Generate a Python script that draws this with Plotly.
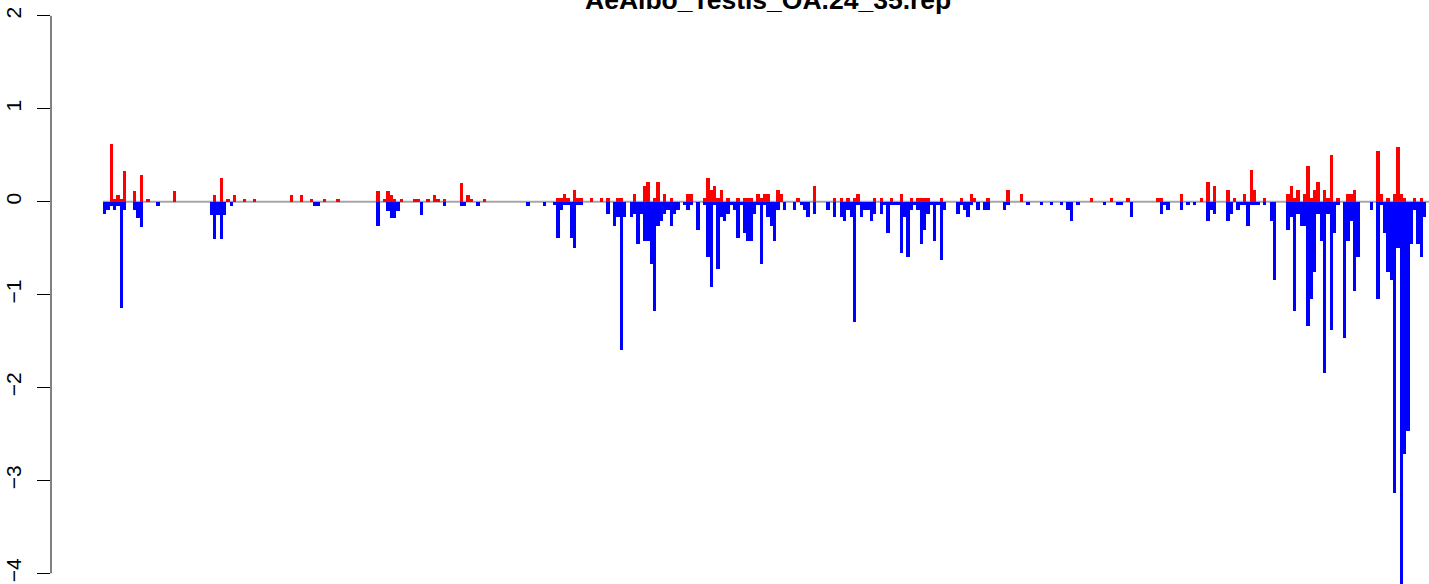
import plotly.graph_objects as go

# Window indices (bins along the sequence) and values
red_idx = [2, 3, 4, 5, 6, 9, 11, 13, 21, 33, 35, 37, 39, 42, 45, 56, 59, 62,
           66, 70, 82, 84, 85, 86, 87, 89, 93, 94, 97, 99, 100, 102, 107, 109, 110, 114,
           136, 137, 138, 139, 141, 142, 143, 146, 149, 151, 154, 155, 159, 162, 163, 165,
           166, 168, 170, 175, 176,
           180, 181, 182, 183, 184, 185, 187, 190, 192, 193, 194, 196, 197, 198, 199, 202,
           203, 208, 213, 219, 221, 223, 225, 226,
           231, 233, 236, 239, 242, 244, 245, 246, 247, 251, 257, 260, 261, 265, 271, 275,
           296, 302, 307, 316, 317, 323, 329, 331, 333,
           337, 339, 342, 344, 345, 348, 355, 356, 357, 358, 360, 361, 362, 363, 364, 366,
           367, 368,
           370, 373, 374, 375, 382, 383, 385, 387, 388, 389, 390, 393, 395]
red_val = [0.62, 0.03, 0.075, 0.03, 0.33, 0.12, 0.29, 0.03, 0.12, 0.075, 0.25, 0.03, 0.075,
           0.03, 0.03, 0.075, 0.075, 0.03,
           0.03, 0.03, 0.12, 0.03, 0.12, 0.075, 0.03, 0.03, 0.03, 0.03, 0.03, 0.075, 0.03,
           0.03, 0.2, 0.075, 0.03, 0.03,
           0.04, 0.04, 0.085, 0.04, 0.13, 0.04, 0.04, 0.04, 0.04, 0.04, 0.04, 0.04, 0.085,
           0.17, 0.21, 0.04, 0.21, 0.085, 0.04, 0.085, 0.085,
           0.04, 0.26, 0.13, 0.17, 0.04, 0.13, 0.04, 0.04, 0.04, 0.04, 0.04, 0.085, 0.04,
           0.085, 0.085, 0.13, 0.085, 0.04, 0.17, 0.04, 0.04, 0.04, 0.04, 0.085,
           0.04, 0.04, 0.04, 0.085, 0.04, 0.04, 0.04, 0.04, 0.04, 0.04, 0.04, 0.085, 0.04,
           0.04, 0.13, 0.085,
           0.04, 0.04, 0.04, 0.04, 0.04, 0.085, 0.04, 0.21, 0.17,
           0.13, 0.04, 0.085, 0.34, 0.13, 0.04, 0.085, 0.17, 0.04, 0.13, 0.085, 0.385,
           0.04, 0.13, 0.21, 0.13, 0.04, 0.50,
           0.04, 0.085, 0.085, 0.13, 0.55, 0.085, 0.04, 0.085, 0.59, 0.085, 0.04, 0.04, 0.04]

blue_idx = [0, 1, 2, 3, 4, 5, 6, 9, 10, 11, 16, 32, 33, 34, 35, 36, 38, 63, 64,
            82, 85, 86, 87, 88, 95, 102, 107, 108, 112, 127, 132,
            135, 136, 137, 138, 139, 140, 141, 142, 143, 151, 153, 154, 155, 156, 158, 159,
            160, 161, 162, 163, 164, 165, 166, 167, 168, 169, 170, 171, 172, 174, 175, 176,
            178,
            180, 181, 182, 183, 184, 185, 186, 187, 188, 189, 190, 191, 192, 193, 194, 195,
            196, 197, 198, 199, 200, 201, 202, 204, 207, 209, 210, 211, 213, 217, 219, 221,
            222, 223, 224, 225, 226, 227,
            228, 229, 230, 231, 233, 234, 235, 236, 237, 238, 239, 240, 241, 242, 243, 244,
            245, 246, 247, 248, 249, 250, 251, 252, 256, 257, 258, 259, 260, 262, 264, 265,
            270, 271,
            277, 281, 284, 287, 289, 290, 292, 300, 304, 305, 308, 317, 318, 319, 323, 325,
            327, 331, 332, 333,
            337, 338, 340, 341, 342, 343, 344, 345, 346, 348, 350, 351, 355, 356, 357, 358,
            359, 360, 361, 362, 363, 364, 365, 366, 367, 368, 369,
            370, 372, 373, 374, 375, 376, 380, 382, 383, 384, 385, 386, 387, 388, 389, 390,
            391, 392, 393, 394, 395, 396]
blue_val = [-0.135, -0.09, -0.05, -0.09, -0.05, -1.14, -0.09, -0.09, -0.18, -0.27, -0.05,
            -0.14, -0.4, -0.14, -0.4, -0.14, -0.05, -0.05, -0.05,
            -0.26, -0.1, -0.18, -0.18, -0.1, -0.14, -0.05, -0.05, -0.05, -0.05, -0.05, -0.05,
            -0.04, -0.39, -0.09, -0.04, -0.04, -0.39, -0.5, -0.04, -0.04, -0.13, -0.26,
            -0.17, -1.6, -0.17, -0.17, -0.13,
            -0.46, -0.13, -0.42, -0.42, -0.67, -1.18, -0.26, -0.21, -0.13, -0.09, -0.26,
            -0.13, -0.09, -0.04, -0.09, -0.04,
            -0.3,
            -0.04, -0.59, -0.92, -0.04, -0.72, -0.17, -0.21, -0.13, -0.04, -0.09, -0.39,
            -0.04, -0.34, -0.42, -0.42, -0.13,
            -0.04, -0.67, -0.04, -0.17, -0.26, -0.42, -0.09, -0.09, -0.09, -0.04, -0.09,
            -0.17, -0.13, -0.09, -0.17, -0.17,
            -0.21, -0.09, -0.17, -1.3, -0.04, -0.17,
            -0.09, -0.09, -0.21, -0.13, -0.13, -0.04, -0.34, -0.04, -0.04, -0.04, -0.55,
            -0.17, -0.59, -0.09, -0.04, -0.09,
            -0.46, -0.3, -0.13, -0.04, -0.42, -0.04, -0.63, -0.09, -0.13, -0.04, -0.09,
            -0.17, -0.04, -0.09, -0.09, -0.09,
            -0.09, -0.04,
            -0.04, -0.04, -0.04, -0.04, -0.09, -0.21, -0.04, -0.04, -0.04, -0.04, -0.17,
            -0.13, -0.04, -0.09, -0.09, -0.04,
            -0.04, -0.21, -0.09, -0.13,
            -0.21, -0.13, -0.09, -0.04, -0.04, -0.26, -0.04, -0.04, -0.04, -0.04, -0.21,
            -0.84, -0.3, -0.17, -1.18, -0.13,
            -0.26, -0.26, -1.34, -1.05, -0.76, -0.13, -0.42, -1.84, -0.13, -1.38, -0.34,
            -0.04, -1.47, -0.42, -0.21, -0.96, -0.59, -0.09, -1.05, -0.04, -0.34, -0.76,
            -0.84, -3.14, -0.5, -4.2, -2.72,
            -2.47, -0.46, -0.09, -0.46, -0.59, -0.17]

y_ticks = [-4, -3, -2, -1, 0, 1, 2]
title_text = "AeAlbo_Testis_OA.24_35.rep"
n_windows = 397

W, H = 1429, 584
ml = 51
px_per_win = 3.333
first_left_px = 103
x0 = -0.5 - (first_left_px - ml) / px_per_win
x1 = x0 + (W - ml) / px_per_win
zero_px, px_per_unit = 201.7, 92.9
y_top = zero_px / px_per_unit
y_bot = (zero_px - H) / px_per_unit

fig = go.Figure()
fig.add_trace(go.Bar(x=red_idx, y=red_val, width=1.0, marker=dict(color="#FF0000", line=dict(width=0)),
                     showlegend=False, hoverinfo="x+y"))
fig.add_trace(go.Bar(x=blue_idx, y=blue_val, width=1.0, marker=dict(color="#0000FF", line=dict(width=0)),
                     showlegend=False, hoverinfo="x+y"))

fig.add_shape(type="line", xref="x", yref="y", x0=-0.5, x1=x1, y0=0, y1=0,
              line=dict(color="#A6A6A6", width=2), layer="below")
fig.add_shape(type="line", xref="paper", yref="y", x0=0, x1=0, y0=min(y_ticks), y1=max(y_ticks),
              line=dict(color="black", width=1))

fig.add_annotation(text="<b>" + title_text + "</b>", xref="paper", yref="paper",
                   x=(767.5 - ml) / (W - ml), y=1, xanchor="center", yanchor="middle",
                   showarrow=False,
                   font=dict(family="Liberation Sans, Arial, sans-serif", size=26.5, color="black"))

fig.update_layout(
    width=W, height=H, margin=dict(l=ml, r=0, t=0, b=0, pad=0, autoexpand=False),
    paper_bgcolor="white", plot_bgcolor="white", barmode="overlay", bargap=0,
    font=dict(family="Liberation Sans, Arial, sans-serif", color="black"),
    xaxis=dict(range=[x0, x1], visible=False, showgrid=False, zeroline=False, automargin=False),
    yaxis=dict(range=[y_bot, y_top], tickvals=y_ticks, ticktext=[str(t).replace("-", "\u2212") for t in y_ticks],
               ticks="outside", ticklen=13, tickwidth=1, tickcolor="black", showline=False,
               showgrid=False, zeroline=False, tickangle=-90, ticklabelstandoff=8, automargin=False,
               ticklabeloverflow="allow",
               tickfont=dict(size=21, family="Liberation Sans, Arial, sans-serif", color="black")),
)

fig.write_html("out.html", config={"displayModeBar": False},
               post_script="document.body.style.margin='0px';document.body.style.overflow='hidden';")
